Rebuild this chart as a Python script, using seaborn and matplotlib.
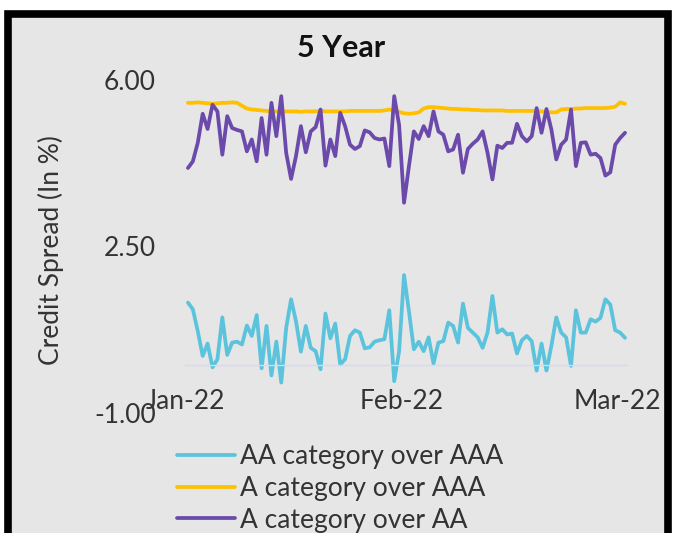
import numpy as np
import pandas as pd
import matplotlib
matplotlib.use("Agg")
import matplotlib.pyplot as plt
import seaborn as sns
from matplotlib.patches import Rectangle

# Daily credit spreads (in %) for the 5 year tenor
aa_over_aaa = [1.32, 1.18, 0.72, 0.20, 0.46, -0.04, 0.13, 1.01, 0.22, 0.48,
               0.50, 0.44, 0.84, 0.62, 1.06, -0.06, 0.83, -0.21, 0.50, -0.36,
               0.79, 1.39, 0.93, 0.29, 0.83, 0.37, 0.30, -0.08, 1.09, 0.57,
               0.88, 0.02, 0.13, 0.62, 0.74, 0.69, 0.36, 0.38, 0.50, 0.53,
               0.55, 1.16, -0.33, 0.30, 1.90, 1.14, 0.34, 0.50, 0.30, 0.59,
               0.04, 0.48, 0.51, 0.90, 0.83, 0.48, 1.30, 0.79, 0.69, 0.59,
               0.37, 0.69, 1.46, 0.69, 0.76, 0.65, 0.67, 0.25, 0.53, 0.62,
               0.51, -0.11, 0.46, -0.11, 0.41, 1.01, 0.69, 0.59, -0.01, 1.16,
               0.69, 0.69, 0.97, 0.92, 1.00, 1.39, 1.28, 0.74, 0.69, 0.58]

a_over_aaa = [5.52, 5.52, 5.53, 5.52, 5.51, 5.50, 5.51, 5.52, 5.52, 5.53,
              5.52, 5.46, 5.40, 5.38, 5.37, 5.36, 5.35, 5.34, 5.34, 5.33,
              5.34, 5.34, 5.34, 5.33, 5.34, 5.34, 5.34, 5.35, 5.34, 5.34,
              5.34, 5.34, 5.34, 5.35, 5.35, 5.35, 5.35, 5.35, 5.35, 5.35,
              5.36, 5.38, 5.36, 5.33, 5.30, 5.29, 5.30, 5.32, 5.40, 5.43,
              5.43, 5.42, 5.41, 5.40, 5.39, 5.39, 5.38, 5.38, 5.37, 5.37,
              5.36, 5.36, 5.36, 5.36, 5.36, 5.35, 5.35, 5.35, 5.35, 5.35,
              5.35, 5.35, 5.34, 5.33, 5.32, 5.32, 5.38, 5.39, 5.39, 5.40,
              5.40, 5.41, 5.41, 5.41, 5.41, 5.41, 5.42, 5.44, 5.53, 5.50]

a_over_aa = [4.15, 4.29, 4.68, 5.29, 4.97, 5.48, 5.34, 4.43, 5.24, 4.99,
             4.95, 4.92, 4.50, 4.75, 4.29, 5.20, 4.43, 5.52, 4.82, 5.66,
             4.47, 3.92, 4.40, 5.03, 4.48, 4.92, 5.01, 5.38, 4.20, 4.75,
             4.40, 5.31, 5.03, 4.64, 4.55, 4.61, 4.94, 4.90, 4.78, 4.75,
             4.77, 4.19, 5.66, 5.05, 3.42, 4.19, 4.92, 4.76, 5.03, 4.82,
             5.34, 4.92, 4.85, 4.50, 4.54, 4.85, 4.05, 4.55, 4.66, 4.75,
             4.92, 4.47, 3.91, 4.62, 4.57, 4.68, 4.68, 5.08, 4.82, 4.71,
             4.82, 5.41, 4.89, 5.39, 4.96, 4.33, 4.64, 4.75, 5.38, 4.19,
             4.68, 4.69, 4.43, 4.45, 4.36, 3.99, 4.06, 4.64, 4.78, 4.89]

series_names = ["AA category over AAA", "A category over AAA", "A category over AA"]
series_colors = ["#5BC3DC", "#FFC000", "#6B4AAB"]
month_labels = ["Jan-22", "Feb-22", "Mar-22"]
month_positions = [-0.6, 43.6, 87.4]
y_ticks = [-1.00, 2.50, 6.00]

obs = np.arange(len(aa_over_aaa))
df = pd.concat([
    pd.DataFrame({"obs": obs, "spread": vals, "series": name})
    for name, vals in zip(series_names, [aa_over_aaa, a_over_aaa, a_over_aa])
], ignore_index=True)

sns.set_theme(style="white")
plt.rcParams["font.family"] = ["Lato", "DejaVu Sans"]
text_color = "#333333"
panel_color = "#E6E6E6"
axis_color = "#D5D9F3"

W, H = 673, 533
fig = plt.figure(figsize=(W / 100, H / 100), dpi=100)
fig.patch.set_facecolor("white")

# grey panel with a heavy black frame, kept behind the axes
fig.patches.append(Rectangle((8 / W, -0.05), (667.5 - 8) / W, (H - 13.5) / H + 0.05,
                             transform=fig.transFigure, facecolor=panel_color,
                             edgecolor="black", linewidth=5.5, zorder=-10))

ax = fig.add_axes([185 / W, (H - 413) / H, 442 / W, 333 / H])
ax.set_zorder(5)
ax.set_facecolor("none")

sns.lineplot(data=df, x="obs", y="spread", hue="series", hue_order=series_names,
             palette=series_colors, linewidth=2.7, ax=ax)

ax.set_xlim(-0.6, 89.4)
ax.set_ylim(-1, 6)
ax.set_yticks(y_ticks)
ax.set_yticklabels([f"{v:.2f}" for v in y_ticks])
ax.set_xticks(month_positions)
ax.set_xticklabels(month_labels)

for side in ["top", "right", "left"]:
    ax.spines[side].set_visible(False)
ax.spines["bottom"].set_position(("data", 0))
ax.spines["bottom"].set_color(axis_color)
ax.spines["bottom"].set_linewidth(1.0)

ax.tick_params(axis="x", length=6, width=1.0, color=axis_color, pad=11,
               labelsize=19, labelcolor=text_color, direction="out")
ax.tick_params(axis="y", length=0, pad=21, labelsize=19, labelcolor=text_color)

ax.set_xlabel("")
ax.set_ylabel("Credit Spread (In %)", fontsize=19, color=text_color)
ax.yaxis.set_label_coords((64 - 185) / 442, (413 - 250) / 333)

fig.text(341 / W, (H - 48) / H, "5 Year", ha="center", va="center",
         fontsize=22, fontweight="bold", color="#111111")

sns.move_legend(ax, loc="upper left", bbox_to_anchor=(177 / W, (H - 444) / H),
                bbox_transform=fig.transFigure, frameon=False, title=None,
                fontsize=19, handlelength=2.2, handletextpad=0.2,
                labelspacing=0.26, borderpad=0, borderaxespad=0)
for t in ax.get_legend().get_texts():
    t.set_color(text_color)
for h in ax.get_legend().legend_handles:
    h.set_linewidth(2.7)

fig.savefig("out.png", dpi=100)
